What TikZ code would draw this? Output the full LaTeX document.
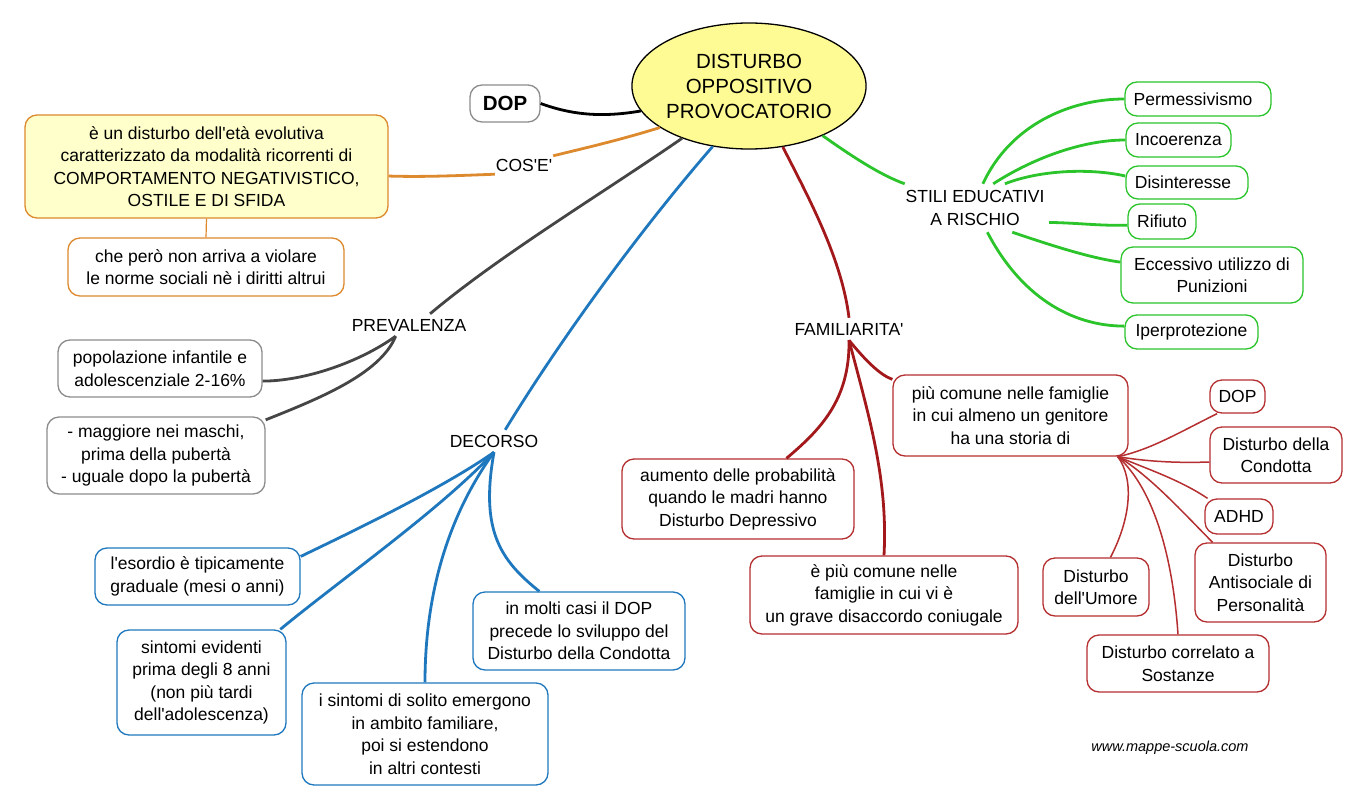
\documentclass[tikz,border=0pt]{standalone}
\usepackage{fontspec}
\setmainfont{Liberation Sans}[Ligatures=TeXOff]
\usetikzlibrary{shapes.geometric}
\definecolor{ellfill}{HTML}{FFFB94}
\definecolor{yelfill}{HTML}{FFFFCC}
\definecolor{orng}{HTML}{DD8A2E}
\definecolor{dgray}{HTML}{454545}
\definecolor{lgray}{HTML}{8C8C8C}
\definecolor{blu}{HTML}{1F78BE}
\definecolor{dred}{HTML}{A3191B}
\definecolor{rbord}{HTML}{B52E30}
\definecolor{grn}{HTML}{2BC42B}
\begin{document}
\begin{tikzpicture}[x=1pt,y=-1pt,
  tx/.style={font=\fontsize{17.5}{22.5}\selectfont, align=center, inner sep=0pt},
  bx/.style={tx, draw, fill=white, rounded corners=12pt, line width=1.3pt},
  lb/.style={tx},
  br/.style={line width=2.8pt},
  fan/.style={line width=1.5pt, draw=rbord},
  obox/.style={bx, draw=orng},
  gbox/.style={bx, draw=lgray},
  bbox/.style={bx, draw=blu},
  rbox/.style={bx, draw=rbord},
  ebox/.style={bx, draw=grn}]
\fill[white] (0,0) rectangle (1368,811);
\useasboundingbox (0,0) rectangle (1368,811);

% central node
\node[ellipse, draw, line width=1.3pt, fill=ellfill, minimum width=231pt, minimum height=126pt, inner sep=0pt,
  align=center, font=\fontsize{20.5}{25}\selectfont] (center) at (749,86) {DISTURBO\\OPPOSITIVO\\PROVOCATORIO};

% DOP
\node[gbox, font=\fontsize{20.5}{24}\selectfont\bfseries, minimum width=70pt, minimum height=37pt] (dop) at (505,103.5) {DOP};

% COS'E'
\node[lb, minimum width=58pt, minimum height=18pt] (cose) at (524,165) {COS'E'};
\node[obox, fill=yelfill, minimum width=363pt, minimum height=103pt] (box1) at (206.5,166.5)
  {è un disturbo dell'età evolutiva\\caratterizzato da modalità ricorrenti di\\COMPORTAMENTO NEGATIVISTICO,\\OSTILE E DI SFIDA};
\node[obox, minimum width=276pt, minimum height=58pt] (box2) at (206,267)
  {che però non arriva a violare\\le norme sociali nè i diritti altrui};

% PREVALENZA
\node[lb, minimum width=120pt, minimum height=22pt] (prev) at (409,325) {PREVALENZA};
\node[gbox, minimum width=204pt, minimum height=57pt] (pop) at (160,368.5)
  {popolazione infantile e\\adolescenziale 2-16\%};
\node[gbox, minimum width=218pt, minimum height=77pt] (mag) at (156,455.5)
  {- maggiore nei maschi,\\prima della pubertà\\- uguale dopo la pubertà};

% DECORSO
\node[lb, minimum width=94pt, minimum height=22pt] (dec) at (494,441) {DECORSO};
\node[bbox, minimum width=205pt, minimum height=57pt] (eso) at (197.5,576.5)
  {l'esordio è tipicamente\\graduale (mesi o anni)};
\node[bbox, minimum width=169pt, minimum height=105pt] (sev) at (201.5,682.5)
  {sintomi evidenti\\prima degli 8 anni\\(non più tardi\\dell'adolescenza)};
\node[bbox, minimum width=246pt, minimum height=102pt] (sds) at (425,734)
  {i sintomi di solito emergono\\in ambito familiare,\\poi si estendono\\in altri contesti};
\node[bbox, minimum width=212pt, minimum height=78pt] (imc) at (579,631)
  {in molti casi il DOP\\precede lo sviluppo del\\Disturbo della Condotta};

% FAMILIARITA'
\node[lb, minimum width=120pt, minimum height=22pt] (fam) at (849,329) {FAMILIARITA'};
\node[rbox, minimum width=232pt, minimum height=80pt] (aum) at (738,499)
  {aumento delle probabilità\\quando le madri hanno\\Disturbo Depressivo};
\node[rbox, minimum width=268pt, minimum height=78pt] (epc) at (884,595)
  {è più comune nelle\\famiglie in cui vi è\\un grave disaccordo coniugale};
\node[rbox, minimum width=235pt, minimum height=81pt] (pcf) at (1010.5,415.5)
  {più comune nelle famiglie\\in cui almeno un genitore\\ha una storia di};
\node[rbox, minimum width=55pt, minimum height=33pt] (dop2) at (1237.5,396.5) {DOP};
\node[rbox, minimum width=132pt, minimum height=56pt] (cond) at (1276,455) {Disturbo della\\Condotta};
\node[rbox, minimum width=68pt, minimum height=35pt] (adhd) at (1239,516.5) {ADHD};
\node[rbox, minimum width=131pt, minimum height=79pt] (anti) at (1260.5,582.5) {Disturbo\\Antisociale di\\Personalità};
\node[rbox, minimum width=106pt, minimum height=58pt] (umo) at (1096,587) {Disturbo\\dell'Umore};
\node[rbox, minimum width=182pt, minimum height=57pt] (sos) at (1178,663.5) {Disturbo correlato a\\Sostanze};

% STILI EDUCATIVI
\node[lb, minimum width=148pt, minimum height=48pt] (sti) at (975,208) {STILI EDUCATIVI\\A RISCHIO};
\node[ebox, minimum width=146pt, minimum height=34pt] (perm) at (1198,99) {Permessivismo\hspace*{10pt}};
\node[ebox, minimum width=105pt, minimum height=34pt] (inc) at (1178.5,140) {Incoerenza};
\node[ebox, minimum width=122pt, minimum height=33pt] (dis) at (1187,182.5) {Disinteresse\hspace*{8pt}};
\node[ebox, minimum width=68pt, minimum height=35pt] (rif) at (1162,221.5) {Rifiuto};
\node[ebox, minimum width=182pt, minimum height=56pt] (ecc) at (1212,275) {Eccessivo utilizzo di\\Punizioni};
\node[ebox, minimum width=133pt, minimum height=34pt] (ipe) at (1191.5,332) {Iperprotezione};

% watermark
\node[font=\fontsize{14.5}{16}\selectfont\itshape, inner sep=0pt] (wm) at (1170,748) {www.mappe-scuola.com};

% ---- connectors ----
% DOP
\draw[br, black] (dop.east) .. controls (575,116) and (605,117) .. (center.193);
% COS'E'
\draw[br, orng] (center.205) .. controls (620,140) and (585,148) .. (cose.north east);
\draw[br, orng] (cose.south west) .. controls (450,176) and (420,177) .. (box1.-3.3);
\draw[line width=1.2pt, orng] (box1.south) -- (box2.north);
% PREVALENZA
\draw[br, dgray] (center.218) .. controls (600,195) and (500,255) .. (prev.28);
\draw[br, dgray] (prev.220) .. controls (360,362) and (305,381) .. (pop.-7);
\draw[br, dgray] (prev.220) .. controls (380,375) and (315,400) .. (mag.18);
% DECORSO
\draw[br, blu] (center.239) .. controls (640,230) and (560,340) .. (dec.45);
\draw[br, blu] (dec.south) .. controls (440,490) and (345,535) .. (eso.11);
\draw[br, blu] (dec.south) .. controls (440,510) and (340,580) .. (sev.34);
\draw[br, blu] (dec.south) .. controls (445,520) and (425,600) .. (sds.north);
\draw[br, blu] (dec.south) .. controls (480,530) and (500,560) .. (imc.135);
% FAMILIARITA'
\draw[br, dred] (center.299) .. controls (810,200) and (842,260) .. (fam.north);
\draw[br, dred] (fam.south) .. controls (850,400) and (820,430) .. (aum.40);
\draw[br, dred] (fam.south) .. controls (870,420) and (888,480) .. (epc.north);
\draw[br, dred] (fam.south) .. controls (865,360) and (880,375) .. (pcf.163);
\draw[fan] (pcf.-21) .. controls (1150,450) and (1180,432) .. (dop2.220);
\draw[fan] (pcf.-21) .. controls (1150,462) and (1180,463) .. (cond.186);
\draw[fan] (pcf.-21) .. controls (1150,470) and (1180,480) .. (adhd.150);
\draw[fan] (pcf.-21) .. controls (1150,475) and (1190,520) .. (anti.140);
\draw[fan] (pcf.-21) .. controls (1135,480) and (1130,520) .. (umo.64);
\draw[fan] (pcf.-21) .. controls (1155,490) and (1173,560) .. (sos.north);
% STILI EDUCATIVI
\draw[br, grn] (center.326.5) .. controls (850,155) and (880,175) .. (sti.161);
\draw[br, grn] (sti.72) .. controls (1010,125) and (1070,99) .. (perm.west);
\draw[br, grn] (sti.53) .. controls (1030,160) and (1080,140) .. (inc.west);
\draw[br, grn] (sti.39) .. controls (1040,170) and (1090,168) .. (dis.174);
\draw[br, grn] (sti.-11) .. controls (1080,223) and (1100,226) .. (rif.186);
\draw[br, grn] (sti.-33) .. controls (1050,245) and (1090,258) .. (ecc.172);
\draw[br, grn] (sti.-63) .. controls (1020,295) and (1070,326) .. (ipe.175);
\end{tikzpicture}
\end{document}
